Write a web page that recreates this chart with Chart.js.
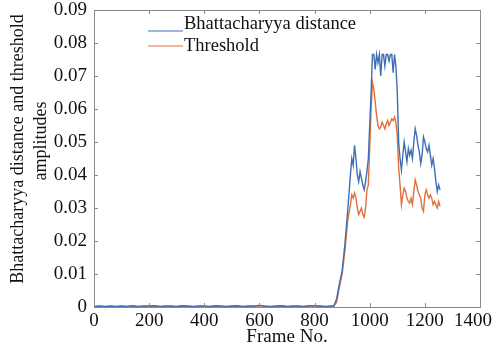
<!DOCTYPE html>
<html>
<head>
<meta charset="utf-8">
<script src="https://cdn.jsdelivr.net/npm/chart.js@4/dist/chart.umd.min.js"></script>
<style>
  html, body { margin: 0; padding: 0; background: #fff; }
  #wrap { width: 493px; height: 349px; }
</style>
</head>
<body>
<div id="wrap"><canvas id="chart" width="493" height="349"></canvas></div>
<script>
"use strict";

// frame numbers (x) and the two series
const frames = [
  0, 20, 40, 60, 80, 100, 120, 140, 160, 180, 200, 220, 240, 260, 280, 300, 320, 340, 360, 380,
  400, 420, 440, 460, 480, 500, 520, 540, 560, 580, 600, 620, 640, 660, 680, 700, 720, 740, 760, 780,
  800, 820, 840, 860, 870, 880, 890, 895, 900, 910, 920, 930, 935, 940, 945, 950, 955, 960, 965, 970,
  975, 980, 985, 990, 995, 1000, 1005, 1010, 1015, 1020, 1025, 1030, 1035, 1040, 1045, 1050, 1055, 1060, 1065, 1070,
  1075, 1080, 1085, 1090, 1095, 1100, 1105, 1110, 1115, 1120, 1125, 1130, 1135, 1140, 1145, 1150, 1155, 1160, 1165, 1170,
  1175, 1180, 1185, 1190, 1195, 1200, 1205, 1210, 1215, 1220, 1225, 1230, 1235, 1240, 1245, 1250, 1255
];
const bhattacharyya = [
  0.0002, 0.0003, 0.0002, 0.0003, 0.0002, 0.0003, 0.0002, 0.0004, 0.0002, 0.0003, 0.0003, 0.0004, 0.0002, 0.0003, 0.0003, 0.0002, 0.0004, 0.0003, 0.0002, 0.0003,
  0.0003, 0.0002, 0.0004, 0.0003, 0.0002, 0.0003, 0.0004, 0.0002, 0.0003, 0.0003, 0.0005, 0.0003, 0.0002, 0.0003, 0.0004, 0.0002, 0.0003, 0.0003, 0.0002, 0.0004,
  0.0004, 0.0003, 0.0002, 0.0003, 0.0003, 0.0025, 0.007, 0.009, 0.011, 0.019, 0.029, 0.040, 0.045, 0.043, 0.049, 0.045, 0.040, 0.038, 0.041, 0.039,
  0.037, 0.0355, 0.038, 0.041, 0.045, 0.055, 0.065, 0.0765, 0.0765, 0.072, 0.0765, 0.074, 0.0765, 0.070, 0.0765, 0.0765, 0.073, 0.0765, 0.0765, 0.0745,
  0.0765, 0.0765, 0.071, 0.0765, 0.073, 0.065, 0.050, 0.045, 0.0415, 0.046, 0.050, 0.047, 0.044, 0.048, 0.046, 0.0475, 0.045, 0.050, 0.054, 0.052,
  0.049, 0.047, 0.0435, 0.046, 0.0515, 0.050, 0.048, 0.047, 0.049, 0.046, 0.043, 0.045, 0.042, 0.038, 0.035, 0.037, 0.0355
];
const threshold = [
  0.0001, 0.0002, 0.0001, 0.0002, 0.0001, 0.0002, 0.0001, 0.0003, 0.0001, 0.0002, 0.0002, 0.0003, 0.0001, 0.0002, 0.0002, 0.0001, 0.0003, 0.0002, 0.0001, 0.0002,
  0.0002, 0.0001, 0.0003, 0.0002, 0.0001, 0.0002, 0.0003, 0.0001, 0.0002, 0.0002, 0.0004, 0.0002, 0.0001, 0.0002, 0.0003, 0.0001, 0.0002, 0.0002, 0.0001, 0.0003,
  0.0003, 0.0002, 0.0001, 0.0002, 0.0002, 0.0015, 0.006, 0.008, 0.010, 0.017, 0.026, 0.031, 0.034, 0.033, 0.0345, 0.033, 0.030, 0.028, 0.029, 0.030,
  0.028, 0.0272, 0.030, 0.0355, 0.037, 0.048, 0.060, 0.068, 0.066, 0.062, 0.058, 0.055, 0.054, 0.0545, 0.056, 0.055, 0.054, 0.0555, 0.0565, 0.055,
  0.056, 0.057, 0.0565, 0.0575, 0.056, 0.052, 0.042, 0.037, 0.031, 0.034, 0.036, 0.035, 0.033, 0.032, 0.0315, 0.033, 0.031, 0.035, 0.0385, 0.037,
  0.035, 0.034, 0.033, 0.030, 0.029, 0.034, 0.0355, 0.034, 0.033, 0.034, 0.033, 0.031, 0.032, 0.031, 0.030, 0.032, 0.0305
];
const seriesLabels = ['Bhattacharyya distance', 'Threshold'];
const xTickStep = 200;
const yTickStep = 0.01;

const FONT = "'Liberation Serif', 'Times New Roman', serif";
const AXIS_COLOR = '#8a8a8a';

function pts(ys) {
  return frames.map((f, i) => ({x: f, y: ys[i]}));
}

// legend drawn inside the plot box, MATLAB style
const legendPlugin = {
  id: 'insideLegend',
  afterDatasetsDraw(chart) {
    const ctx = chart.ctx;
    const rows = [{ty: 24, ly: 31}, {ty: 46, ly: 46}];
    ctx.save();
    ctx.font = '18.5px ' + FONT;
    ctx.fillStyle = '#111';
    ctx.textBaseline = 'middle';
    chart.data.datasets.forEach((ds, i) => {
      const r = rows[i];
      ctx.strokeStyle = ds.borderColor;
      ctx.lineWidth = 1.2;
      ctx.beginPath();
      ctx.moveTo(148, r.ly);
      ctx.lineTo(183, r.ly);
      ctx.stroke();
      ctx.fillText(ds.label, 184, r.ty);
    });
    ctx.restore();
  }
};

// box round the plot with inward ticks on all four sides, plus axis titles
const frameTicksPlugin = {
  id: 'frameTicks',
  afterDraw(chart) {
    const ctx = chart.ctx;
    const a = chart.chartArea;
    const xs = chart.scales.x, ys = chart.scales.y;
    const len = 4;
    ctx.save();
    ctx.strokeStyle = AXIS_COLOR;
    ctx.lineWidth = 1;
    ctx.strokeRect(Math.round(a.left) + 0.5, Math.round(a.top) + 0.5,
                   Math.round(a.right - a.left), Math.round(a.bottom - a.top));
    ctx.beginPath();
    xs.ticks.forEach(t => {
      const px = Math.round(xs.getPixelForValue(t.value)) + 0.5;
      ctx.moveTo(px, a.bottom); ctx.lineTo(px, a.bottom - len);
      ctx.moveTo(px, a.top); ctx.lineTo(px, a.top + len);
    });
    ys.ticks.forEach(t => {
      const py = Math.round(ys.getPixelForValue(t.value)) + 0.5;
      ctx.moveTo(a.left, py); ctx.lineTo(a.left + len, py);
      ctx.moveTo(a.right, py); ctx.lineTo(a.right - len, py);
    });
    ctx.stroke();

    ctx.fillStyle = '#111';
    ctx.font = '19px ' + FONT;
    ctx.textAlign = 'center';
    ctx.textBaseline = 'middle';
    ctx.fillText('Frame No.', (a.left + a.right) / 2, 337);

    ctx.font = '18px ' + FONT;
    ctx.translate(18, 149);
    ctx.rotate(-Math.PI / 2);
    ctx.fillText('Bhattacharyya distance and threshold', 0, 0);
    ctx.fillText('amplitudes', 8, 23);
    ctx.restore();
  }
};

const chart = new Chart('chart', {
  type: 'line',
  data: {
    datasets: [{
      label: seriesLabels[0],
      data: pts(bhattacharyya),
      borderColor: '#3f6fb3',
      borderWidth: 1.4,
      pointRadius: 0,
      tension: 0
    }, {
      label: seriesLabels[1],
      data: pts(threshold),
      borderColor: '#e0703c',
      borderWidth: 1.4,
      pointRadius: 0,
      tension: 0
    }]
  },
  options: {
    responsive: false,
    animation: false,
    layout: { padding: { top: 10, right: 13, left: 0, bottom: 0 } },
    plugins: { legend: { display: false }, tooltip: { enabled: false } },
    scales: {
      x: {
        type: 'linear',
        min: 0, max: 1400,
        afterFit(scale) { scale.height = 42; scale.paddingLeft = 0; scale.paddingRight = 0; },
        grid: { display: false, drawTicks: false },
        border: { display: false },
        ticks: {
          stepSize: xTickStep,
          padding: 3,
          autoSkip: false,
          color: '#111',
          maxRotation: 0,
          font: { family: FONT, size: 19 },
          // last label nudged left with trailing spaces so it stays on the canvas
          callback: (v, i, ticks) => (i === ticks.length - 1 ? v + '   ' : String(v))
        }
      },
      y: {
        min: 0, max: 0.09,
        afterFit(scale) { scale.width = 94; scale.paddingTop = 0; scale.paddingBottom = 0; },
        grid: { display: false, drawTicks: false },
        border: { display: false },
        ticks: {
          stepSize: yTickStep,
          padding: 7,
          color: '#111',
          font: { family: FONT, size: 19 },
          callback: v => (v === 0 ? '0' : v.toFixed(2))
        }
      }
    }
  },
  plugins: [legendPlugin, frameTicksPlugin]
});
</script>
</body>
</html>
